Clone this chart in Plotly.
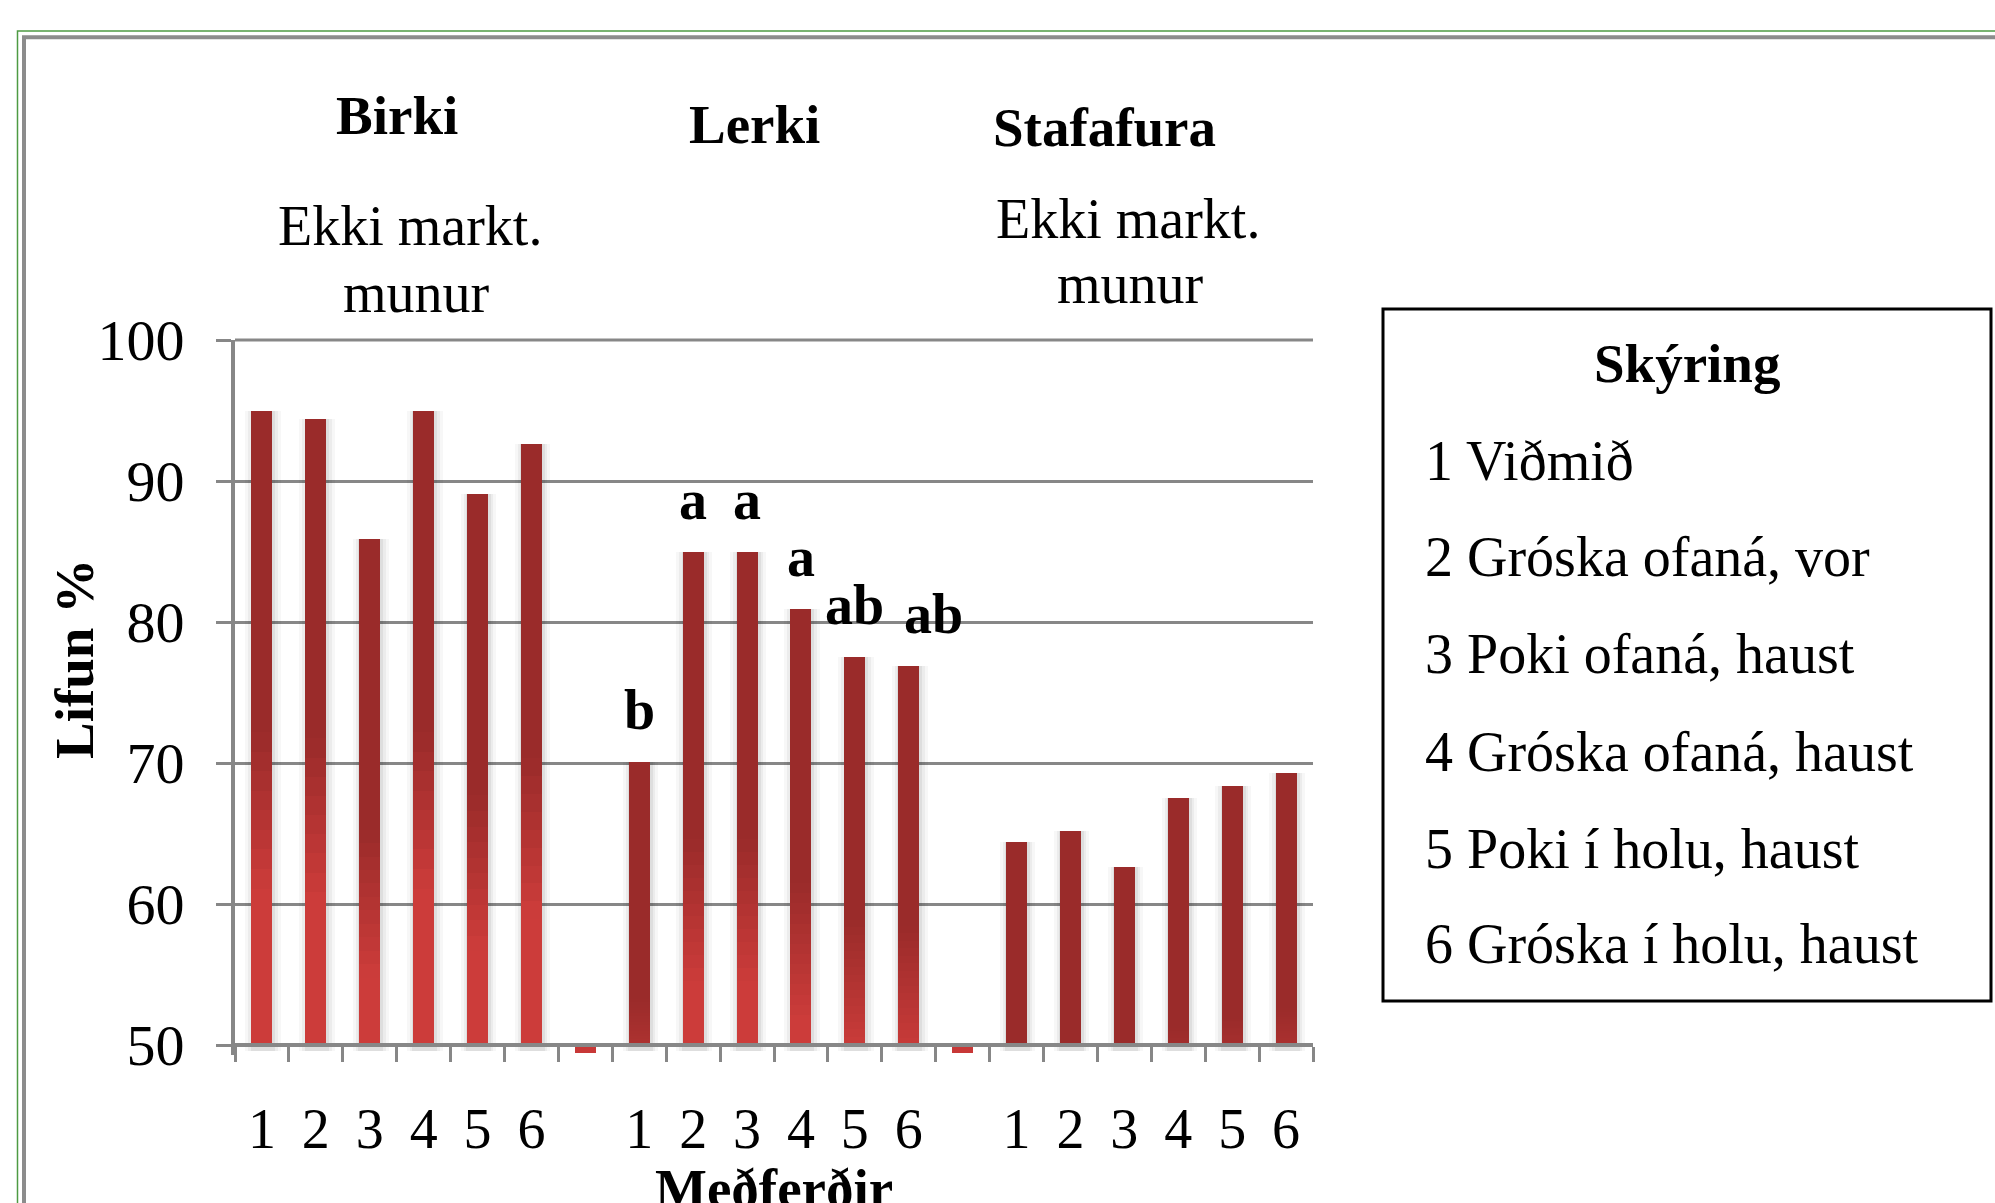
import plotly.graph_objects as go

# ---------------- data ----------------
group_names = ["Birki", "Lerki", "Stafafura"]
birki = [95.0, 94.4, 85.9, 95.0, 89.1, 92.6]
lerki = [70.1, 85.0, 85.0, 80.9, 77.5, 76.9]
stafafura = [64.4, 65.2, 62.6, 67.5, 68.4, 69.3]
gap_value = 49.45
treatment_labels = ["1", "2", "3", "4", "5", "6"]
lerki_letters = ["b", "a", "a", "a", "ab", "ab"]
subtitle_lines = ["Ekki markt.", "munur"]
legend_title = "Skýring"
legend_items = [
    "1 Viðmið",
    "2 Gróska ofaná, vor",
    "3 Poki ofaná, haust",
    "4 Gróska ofaná, haust",
    "5 Poki í holu, haust",
    "6 Gróska í holu, haust",
]
y_title = "Lifun %"
x_title = "Meðferðir"

# ---------------- layout geometry ----------------
W, H = 1995, 1203
Y_MIN, Y_MAX = 49.3, 100
Y_TOP_PX, Y50_PX = 340, 1045
PPU = (Y50_PX - Y_TOP_PX) / (Y_MAX - 50)
L, R, T = 235, 682, Y_TOP_PX
B = H - (Y50_PX + (50 - Y_MIN) * PPU)
PW, PH = W - L - R, H - T - B


def px(x):
    return (x - L) / PW


def py(y):
    return (H - B - y) / PH


FONT = "Liberation Serif, Times New Roman, serif"
DARK = (154, 43, 42)
LIGHT = (204, 60, 58)
GRID = "#878787"

# positions: 6 bars, gap, 6 bars, gap, 6 bars
series = [birki, lerki, stafafura]
bar_x, bar_v = [], []
gap_x = []
pos = 0
for gi, arr in enumerate(series):
    for v in arr:
        bar_x.append(pos)
        bar_v.append(v)
        pos += 1
    if gi < len(series) - 1:
        gap_x.append(pos)
        pos += 1
n_cat = pos
label_x = list(bar_x)

fig = go.Figure()

# soft shadows behind bars
for wdt, alpha in [(0.66, 0.03), (0.55, 0.045), (0.46, 0.06)]:
    fig.add_trace(go.Bar(
        x=[x + 0.02 for x in bar_x], y=[v - 49.6 for v in bar_v], base=49.6,
        width=wdt, marker=dict(color=f"rgba(0,0,0,{alpha})", line_width=0),
        hoverinfo="skip", showlegend=False))

BW = 0.39
# main dark bars
fig.add_trace(go.Bar(
    x=bar_x, y=[v - 50 for v in bar_v], base=50, width=BW,
    marker=dict(color="rgb(%d,%d,%d)" % DARK, line_width=0),
    showlegend=False,
    customdata=bar_v, hovertemplate="%{customdata}<extra></extra>"))


def mix(t):
    c = [round(LIGHT[i] + (DARK[i] - LIGHT[i]) * t) for i in range(3)]
    return "rgb(%d,%d,%d)" % tuple(c)


# gradient slices at the lower part of each bar
K = 16
LO_F, HI_F = 0.64, 0.76
for k in range(K):
    bases, hs, cols = [], [], []
    for v in bar_v:
        top = HI_F * v
        if top <= 50:
            bases.append(50)
            hs.append(0)
            cols.append(mix(1))
            continue
        seg = (top - 50) / K
        lo = 50 + k * seg
        mid = lo + seg / 2
        t = min(max((mid / v - LO_F) / (HI_F - LO_F), 0), 1)
        bases.append(lo)
        hs.append(seg * 1.25 if k < K - 1 else seg)
        cols.append(mix(t))
    fig.add_trace(go.Bar(
        x=bar_x, y=hs, base=bases, width=BW,
        marker=dict(color=cols, line_width=0),
        hoverinfo="skip", showlegend=False))

# tiny stubs in gap categories
fig.add_trace(go.Bar(
    x=gap_x, y=[gap_value - 50] * len(gap_x), base=50, width=BW,
    marker=dict(color="rgb(200,56,55)", line_width=0),
    hoverinfo="skip", showlegend=False))

# dummy trace on second x axis for the centered labels
fig.add_trace(go.Scatter(x=label_x, y=[None] * len(label_x), xaxis="x2",
                         mode="markers", showlegend=False, hoverinfo="skip"))

annotations = []
# Lerki significance letters
lerki_x = label_x[6:12]
for i, (lt, v) in enumerate(zip(lerki_letters, lerki)):
    annotations.append(dict(
        x=lerki_x[i], y=v, xref="x", yref="y", text=f"<b>{lt}</b>",
        showarrow=False, yanchor="middle", yshift=52,
        xshift=25 if i == len(lerki) - 1 else 0,
        font=dict(family=FONT, size=56, color="black")))

# group titles
title_pos = [(397, 116), (754, 125), (1104, 128)]
for name, (tx, ty) in zip(group_names, title_pos):
    annotations.append(dict(x=px(tx), y=py(ty), xref="paper", yref="paper",
                            text=f"<b>{name}</b>", showarrow=False,
                            xanchor="center", yanchor="middle",
                            font=dict(family=FONT, size=55, color="black")))

# "Ekki markt. munur" notes for Birki and Stafafura
sub_pos = [[(410, 226), (416, 293)], [(1128, 219), (1130, 284)]]
for lines in sub_pos:
    for txt, (tx, ty) in zip(subtitle_lines, lines):
        annotations.append(dict(x=px(tx), y=py(ty), xref="paper", yref="paper",
                                text=txt, showarrow=False,
                                xanchor="center", yanchor="middle",
                                font=dict(family=FONT, size=56, color="black")))

# axis titles
annotations.append(dict(x=px(74), y=py(659), xref="paper", yref="paper",
                        text=f"<b>{y_title}</b>", textangle=-90, showarrow=False,
                        xanchor="center", yanchor="middle",
                        font=dict(family=FONT, size=55, color="black")))
annotations.append(dict(x=px(774), y=py(1156), xref="paper", yref="paper",
                        text=f"<b>{x_title}</b>", showarrow=False,
                        xanchor="center", yanchor="top",
                        font=dict(family=FONT, size=55, color="black")))

# key box texts
annotations.append(dict(x=px(1687), y=py(363), xref="paper", yref="paper",
                        text=f"<b>{legend_title}</b>", showarrow=False,
                        xanchor="center", yanchor="middle",
                        font=dict(family=FONT, size=55, color="black")))
item_y = [461, 557, 654, 752, 849, 944]
for txt, iy in zip(legend_items, item_y):
    annotations.append(dict(x=px(1423), y=py(iy), xref="paper", yref="paper",
                            text=txt, showarrow=False,
                            xanchor="left", yanchor="middle",
                            font=dict(family=FONT, size=56, color="black")))

shapes = [
    # gridline at the top of the value range (paper refs so it is not clipped)
    dict(type="line", xref="paper", yref="paper", x0=0, x1=1,
         y0=1, y1=1, line=dict(color=GRID, width=3), layer="below"),
    # key box
    dict(type="rect", xref="paper", yref="paper",
         x0=px(1383), x1=px(1991), y0=py(309), y1=py(1001),
         line=dict(color="black", width=3), fillcolor="rgba(0,0,0,0)"),
    # outer green frame
    dict(type="rect", xref="paper", yref="paper",
         x0=px(17.5), x1=px(2300), y0=py(31), y1=py(1500),
         line=dict(color="#4E9A43", width=1.5), fillcolor="rgba(0,0,0,0)"),
    # grey frame
    dict(type="rect", xref="paper", yref="paper",
         x0=px(24), x1=px(2300), y0=py(37.3), y1=py(1500),
         line=dict(color="#8C8C8C", width=4), fillcolor="rgba(0,0,0,0)"),
]

boundaries = [i - 0.5 for i in range(n_cat + 1)]
x_axis_pos = (50 - Y_MIN) * PPU / PH

fig.update_layout(
    width=W, height=H,
    margin=dict(l=L, r=R, t=T, b=B, pad=0),
    paper_bgcolor="white", plot_bgcolor="white",
    barmode="overlay", bargap=0,
    showlegend=False,
    font=dict(family=FONT, size=56, color="black"),
    xaxis=dict(range=[-0.5, n_cat - 0.5], tickmode="array", tickvals=boundaries,
               ticktext=[""] * len(boundaries), ticks="outside", ticklen=15,
               tickwidth=3, tickcolor=GRID, showline=True, linecolor=GRID,
               linewidth=4, showgrid=False, zeroline=False, fixedrange=True,
               anchor="free", position=x_axis_pos),
    xaxis2=dict(overlaying="x", side="bottom", range=[-0.5, n_cat - 0.5],
                anchor="free", position=x_axis_pos,
                tickmode="array", tickvals=label_x,
                ticktext=treatment_labels * len(series), ticks="", ticklen=0,
                showline=False, showgrid=False, zeroline=False,
                ticklabelstandoff=46,
                tickfont=dict(family=FONT, size=56, color="black")),
    yaxis=dict(range=[Y_MIN, Y_MAX], tickmode="linear", tick0=50, dtick=10,
               ticks="outside", ticklen=15, tickwidth=3, tickcolor=GRID,
               showline=True, linecolor=GRID, linewidth=4,
               showgrid=True, gridcolor=GRID, gridwidth=3, zeroline=False,
               ticklabelstandoff=20,
               tickfont=dict(family=FONT, size=58, color="black")),
    annotations=annotations,
    shapes=shapes,
)

fig.write_html("out.html", config={"displayModeBar": False},
               post_script="document.body.style.margin='0';document.body.style.overflow='hidden';")
